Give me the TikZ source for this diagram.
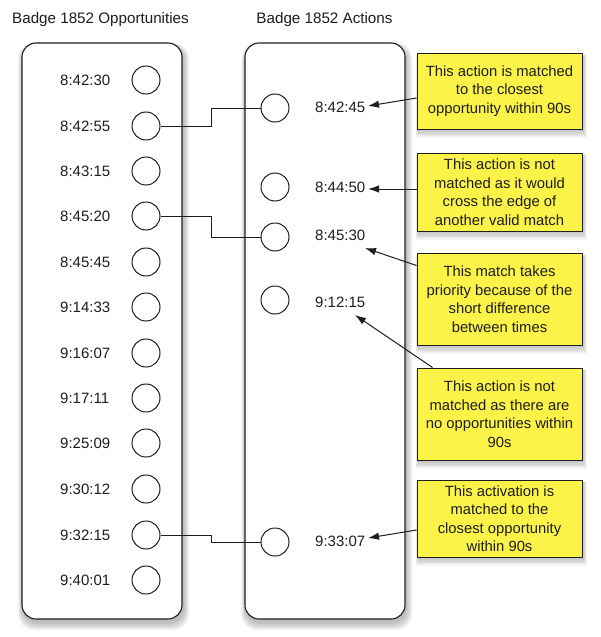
\documentclass[tikz,border=0pt]{standalone}
\usepackage{fontspec}
\setmainfont{Liberation Sans}
\usetikzlibrary{arrows.meta,calc}
\definecolor{notey}{RGB}{252,243,72}
\definecolor{ink}{RGB}{30,30,30}
\begin{document}
\begin{tikzpicture}[x=1pt,y=-1pt,
 panel/.style={draw=ink, line width=1.1pt, rounded corners=14pt, fill=white},
 dot/.style={circle, draw=ink, line width=1pt, minimum size=28pt, inner sep=0pt},
 tlabel/.style={font=\fontsize{15}{17}\selectfont, text=ink, anchor=west, inner sep=0pt},
 head/.style={font=\fontsize{15.2}{18}\selectfont, text=ink, inner sep=0pt},
 note/.style={draw=ink, line width=1pt, fill=notey, minimum width=165pt, align=center, font=\fontsize{14.8}{18.5}\selectfont, text=ink, inner sep=0pt},
 link/.style={draw=ink, line width=1pt},
 pointer/.style={draw=ink, line width=1pt, -{Latex[length=11pt,width=7.5pt]}}]
\useasboundingbox (0,0) rectangle (600,637);
\fill[white] (0,0) rectangle (600,637);

% soft shadows of panels
\foreach \i in {1,...,7}{
  \fill[black, opacity=0.04, rounded corners=16pt] (22-\i*0.7+1,43+2-\i*0.3) rectangle (182+\i*0.9+1,619+3+\i*1.2);
  \fill[black, opacity=0.04, rounded corners=16pt] (245-\i*0.7+1,43+2-\i*0.3) rectangle (405+\i*0.9+1,619+3+\i*1.2);
}
\draw[panel] (22,43) rectangle (182,619);
\draw[panel] (245,43) rectangle (405,619);

\node[head] (hl) at (100.5,20) {Badge 1852 Opportunities};
\node[head] (hr) at (324.5,20) {Badge 1852 Actions};

% opportunities
\foreach \n/\y/\t in {1/80/8:42:30, 2/126/8:42:55, 3/171/8:43:15, 4/216/8:45:20, 5/262/8:45:45, 6/307/9:14:33, 7/353/9:16:07, 8/398/9:17:11, 9/443/9:25:09, 10/489/9:30:12, 11/535/9:32:15, 12/580/9:40:01}{
  \node[dot] (o\n) at (146,\y) {};
  \node[tlabel] (ol\n) at (60,\y) {\t};
}

% actions
\foreach \n/\y in {1/108, 2/187, 3/237, 4/300, 5/542}{
  \node[dot] (a\n) at (275,\y) {};
}
\node[tlabel] (r1) at (315,107) {8:42:45};
\node[tlabel] (r2) at (315,187) {8:44:50};
\node[tlabel] (r3) at (315,235) {8:45:30};
\node[tlabel] (r4) at (315,302) {9:12:15};
\node[tlabel] (r5) at (315,541) {9:33:07};

% matches
\draw[link] (o2.east) -- ++(51,0) |- (a1.west);
\draw[link] (o4.east) -- ++(51,0) |- (a3.west);
\draw[link] (o11.east) -- ++(51,0) |- (a5.west);

% note shadows
\foreach \yt/\yb in {53/129, 153/231, 253/345, 368/460, 480/557}{
  \foreach \i in {1,...,5}{
    \fill[black, opacity=0.045] (417-\i*0.5+1,\yt+2) rectangle (582+\i*0.8+1,\yb+2+\i*1.3);
  }
}

% notes
\node[note, minimum height=76pt] (n1) at (499.5,91) {This action is matched\\to the closest\\opportunity within 90s};
\node[note, minimum height=78pt] (n2) at (499.5,192) {This action is not\\matched as it would\\cross the edge of\\another valid match};
\node[note, minimum height=92pt] (n3) at (499.5,299) {This match takes\\priority because of the\\short difference\\between times};
\node[note, minimum height=92pt] (n4) at (499.5,414) {This action is not\\matched as there are\\no opportunities within\\90s};
\node[note, minimum height=77pt] (n5) at (499.5,518.5) {This activation is\\matched to the\\closest opportunity\\within 90s};

% pointer tips
\coordinate (t1) at (368,106);
\coordinate (t2) at (368,189);
\coordinate (t3) at (365,248);
\coordinate (t4) at (355,315);
\coordinate (t5) at (368,538);

\draw[pointer] ([yshift=-7pt]n1.west) -- (t1);
\draw[pointer] ([yshift=3pt]n2.west) -- (t2);
\draw[pointer] ([yshift=-13pt]n3.north west) -- (t3);
\draw[pointer] ([xshift=16pt]n4.north west) -- (t4);
\draw[pointer] ([yshift=-11.5pt]n5.west) -- (t5);
\end{tikzpicture}
\end{document}
